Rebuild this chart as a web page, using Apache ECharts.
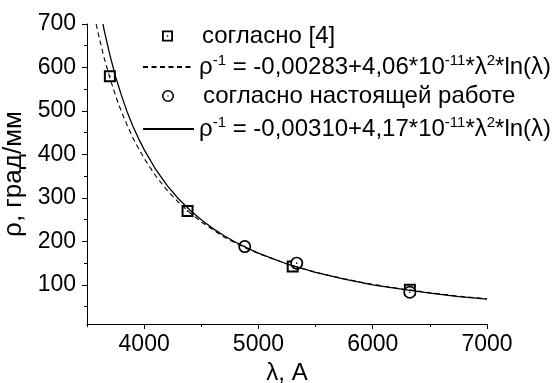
<!DOCTYPE html>
<html>
<head>
<meta charset="utf-8">
<script src="https://cdn.jsdelivr.net/npm/echarts@6/dist/echarts.min.js"></script>
<style>
html,body{margin:0;padding:0;background:#fff;}
#chart{width:555px;height:383px;}
</style>
</head>
<body>
<div id="chart"></div>
<script>
// ---- data ----
const xMajorTicks = [4000, 5000, 6000, 7000];
const xMinorTicks = [3500, 4500, 5500, 6500];
const yMajorTicks = [100, 200, 300, 400, 500, 600, 700];
const yMinorTicks = [50, 150, 250, 350, 450, 550, 650];

// points "согласно [4]"
const refLambda = [3700, 4380, 5300, 6325];
const refRho = [580, 270, 142, 89];
// points "согласно настоящей работе"
const ownLambda = [4880, 5335, 6325];
const ownRho = [188, 150, 83];

// dashed curve (fit of [4])
const fitRefLambda = [3580, 3600, 3650, 3700, 3750, 3800, 3850, 3900, 3950, 4000, 4100, 4200, 4300, 4400, 4500, 4600, 4700, 4800, 4900, 5000, 5250, 5500, 5750, 6000, 6250, 6500, 6750, 7000];
const fitRefRho = [700, 676, 622, 576, 535, 499, 468, 439, 414, 391, 351, 318, 290, 266, 245, 227, 210, 196, 183, 172, 148, 129, 114, 101, 91, 82, 74, 68];
// solid curve (fit of this work)
const fitOwnLambda = [3640, 3650, 3700, 3750, 3800, 3850, 3900, 3950, 4000, 4100, 4200, 4300, 4400, 4500, 4600, 4700, 4800, 4900, 5000, 5250, 5500, 5750, 6000, 6250, 6500, 6750, 7000];
const fitOwnRho = [700, 686, 629, 579, 537, 499, 466, 437, 411, 366, 329, 298, 272, 250, 230, 213, 198, 185, 173, 148, 129, 113, 100, 90, 81, 73, 67];

const nameRef = 'согласно [4]';
const nameOwn = 'согласно настоящей работе';
const nameFitRef = 'fitRef';
const nameFitOwn = 'fitOwn';
const fitRefLabel = '{r|ρ}{s|-1}{r| = -0,00283+4,06*10}{s|-11}{r|*λ}{s|2}{r|*ln(λ)}';
const fitOwnLabel = '{r|ρ}{s|-1}{r| = -0,00310+4,17*10}{s|-11}{r|*λ}{s|2}{r|*ln(λ)}';

function pairs(xs, ys) { return xs.map((x, i) => [x, ys[i]]); }

const FONT = 'Liberation Sans, Arial, sans-serif';
const squarePath = 'path://M0,0H12V12H0Z M2,2V10H10V2Z M5.25,5.25H6.75V6.75H5.25Z';
const circlePath = 'path://M0,6.5A6.5,6.5,0,1,1,13,6.5A6.5,6.5,0,1,1,0,6.5Z M1.7,6.5A4.8,4.8,0,1,0,11.3,6.5A4.8,4.8,0,1,0,1.7,6.5Z M5.7,6.5A0.8,0.8,0,1,1,7.3,6.5A0.8,0.8,0,1,1,5.7,6.5Z';

const legendText = {
  fontFamily: FONT, fontSize: 24, color: '#000',
  rich: {
    r: { fontFamily: FONT, fontSize: 24, color: '#000', lineHeight: 28 },
    s: { fontFamily: FONT, fontSize: 15, color: '#000', lineHeight: 28, verticalAlign: 'top' }
  }
};

function legendFmt(name) {
  if (name === nameFitRef) return fitRefLabel;
  if (name === nameFitOwn) return fitOwnLabel;
  return '{r|' + name + '}';
}

const chart = echarts.init(document.getElementById('chart'), null, { renderer: 'canvas' });
const axisLineStyle = { color: '#000', width: 1 };

const option = {
  animation: false,
  backgroundColor: '#fff',
  grid: { left: 87, top: 24, width: 400, height: 300, containLabel: false, outerBoundsMode: 'none' },
  legend: [
    { data: [nameRef], left: 162, top: 24, padding: 0, itemWidth: 11, itemHeight: 11, selectedMode: false,
      formatter: legendFmt, textStyle: Object.assign({}, legendText, { padding: [0, 0, 0, 24] }), itemStyle: { color: '#000', opacity: 1 } },
    { data: [nameFitRef], left: 142, top: 53, padding: 0, itemWidth: 51, itemHeight: 14, selectedMode: false,
      formatter: legendFmt, textStyle: legendText, itemStyle: { opacity: 0 } },
    { data: [nameOwn], left: 162, top: 84, padding: 0, itemWidth: 12, itemHeight: 12, selectedMode: false,
      formatter: legendFmt, textStyle: Object.assign({}, legendText, { padding: [0, 0, 0, 24] }), itemStyle: { color: '#000', opacity: 1 } },
    { data: [nameFitOwn], left: 142, top: 115, padding: 0, itemWidth: 51, itemHeight: 14, selectedMode: false,
      formatter: legendFmt, textStyle: legendText, itemStyle: { opacity: 0 } }
  ],
  xAxis: [
    { type: 'value', min: 3500, max: 7000, splitLine: { show: false },
      axisLine: { onZero: false, lineStyle: axisLineStyle },
      axisTick: { show: true, inside: false, length: 5, lineStyle: axisLineStyle, customValues: xMajorTicks },
      axisLabel: { customValues: xMajorTicks, margin: 9, fontFamily: FONT, fontSize: 23, color: '#000',
        formatter: v => String(v) },
      name: 'λ, A', nameLocation: 'middle', nameGap: 32,
      nameTextStyle: { fontFamily: FONT, fontSize: 24, color: '#000' } },
    { type: 'value', min: 3500, max: 7000, position: 'bottom', splitLine: { show: false },
      axisLine: { show: false, onZero: false },
      axisTick: { show: true, inside: false, length: 3, lineStyle: axisLineStyle, customValues: xMinorTicks },
      axisLabel: { show: false } }
  ],
  yAxis: [
    { type: 'value', min: 10, max: 700, splitLine: { show: false },
      axisLine: { show: true, onZero: false, lineStyle: axisLineStyle },
      axisTick: { show: true, inside: false, length: 5, lineStyle: axisLineStyle, customValues: yMajorTicks },
      axisLabel: { customValues: yMajorTicks, margin: 11, fontFamily: FONT, fontSize: 23, color: '#000',
        formatter: v => String(v) },
      name: 'ρ, град/мм', nameLocation: 'middle', nameGap: 49, nameRotate: 90,
      nameTextStyle: { fontFamily: FONT, fontSize: 26, color: '#000' } },
    { type: 'value', min: 10, max: 700, position: 'left', splitLine: { show: false },
      axisLine: { show: false, onZero: false },
      axisTick: { show: true, inside: false, length: 3, lineStyle: axisLineStyle, customValues: yMinorTicks },
      axisLabel: { show: false } }
  ],
  series: [
    { name: nameFitRef, type: 'line', xAxisIndex: 0, yAxisIndex: 0, data: pairs(fitRefLambda, fitRefRho),
      showSymbol: false, symbol: 'none', smooth: false,
      lineStyle: { color: '#000', width: 1.1, type: [5, 3.5] }, itemStyle: { color: '#000' } },
    { name: nameFitOwn, type: 'line', xAxisIndex: 0, yAxisIndex: 0, data: pairs(fitOwnLambda, fitOwnRho),
      showSymbol: false, symbol: 'none', smooth: false,
      lineStyle: { color: '#000', width: 1.3 }, itemStyle: { color: '#000' } },
    { name: 'refBg', type: 'scatter', data: pairs(refLambda, refRho), symbol: 'rect', symbolSize: 11,
      itemStyle: { color: '#fff', opacity: 1 }, silent: true },
    { name: nameRef, type: 'scatter', data: pairs(refLambda, refRho), symbol: squarePath, symbolSize: 12,
      itemStyle: { color: '#000', opacity: 1 } },
    { name: 'ownBg', type: 'scatter', data: pairs(ownLambda, ownRho), symbol: 'circle', symbolSize: 12,
      itemStyle: { color: '#fff', opacity: 1 }, silent: true },
    { name: nameOwn, type: 'scatter', data: pairs(ownLambda, ownRho), symbol: circlePath, symbolSize: 13,
      itemStyle: { color: '#000', opacity: 1 } }
  ]
};
chart.setOption(option);
</script>
</body>
</html>
